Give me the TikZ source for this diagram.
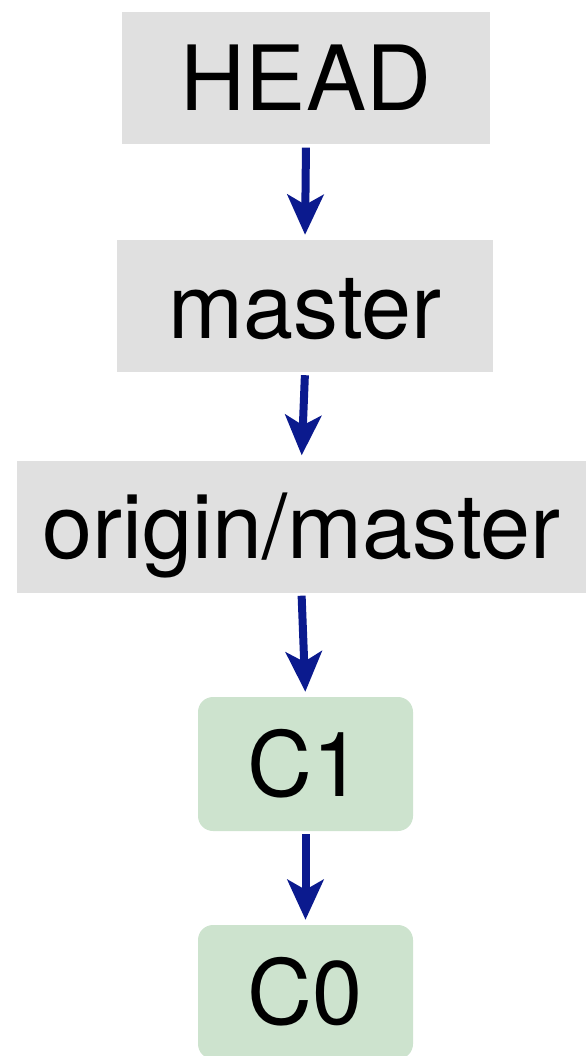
\documentclass[tikz,border=0pt]{standalone}
\usepackage{fontspec}
\setmainfont{TeX Gyre Heros}
\usetikzlibrary{arrows.meta}
\definecolor{refgray}{HTML}{E0E0E0}
\definecolor{commitgreen}{HTML}{CDE3CE}
\definecolor{ptrblue}{HTML}{0B1A8E}
\tikzset{
  refbox/.style={fill=refgray, inner sep=0pt, minimum height=132pt,
    font=\fontsize{90}{98}\selectfont, text height=64pt, text depth=0pt},
  commitbox/.style={fill=commitgreen, rounded corners=15pt, inner sep=0pt,
    minimum width=215pt, minimum height=134pt,
    font=\fontsize{90}{98}\selectfont, text height=64pt, text depth=0pt},
  pointer/.style={ptrblue, line width=8pt,
    -{Stealth[length=40pt, width=36pt, inset=10pt]}, shorten <=3pt, shorten >=5pt}
}
\begin{document}
\begin{tikzpicture}[x=1pt, y=-1pt]

\clip (0,0) rectangle (586,1056);
\useasboundingbox (0,0) rectangle (586,1056);

\node[refbox, minimum width=368pt] (head) at (306,78.5) {HEAD};
\node[refbox, minimum width=376pt] (master) at (305,306) {master};
\node[refbox, minimum width=569pt] (origin) at (301.5,526.5) {origin/master};
\node[commitbox] (c1) at (305.5,764) {C1};
\node[commitbox] (c0) at (305.5,992) {C0};

\draw[pointer] (head.south) -- (master.north);
\draw[pointer] (master.south) -- (origin.north);
\draw[pointer] (origin.south) -- (c1.north);
\draw[pointer] (c1.south) -- (c0.north);

\end{tikzpicture}
\end{document}
